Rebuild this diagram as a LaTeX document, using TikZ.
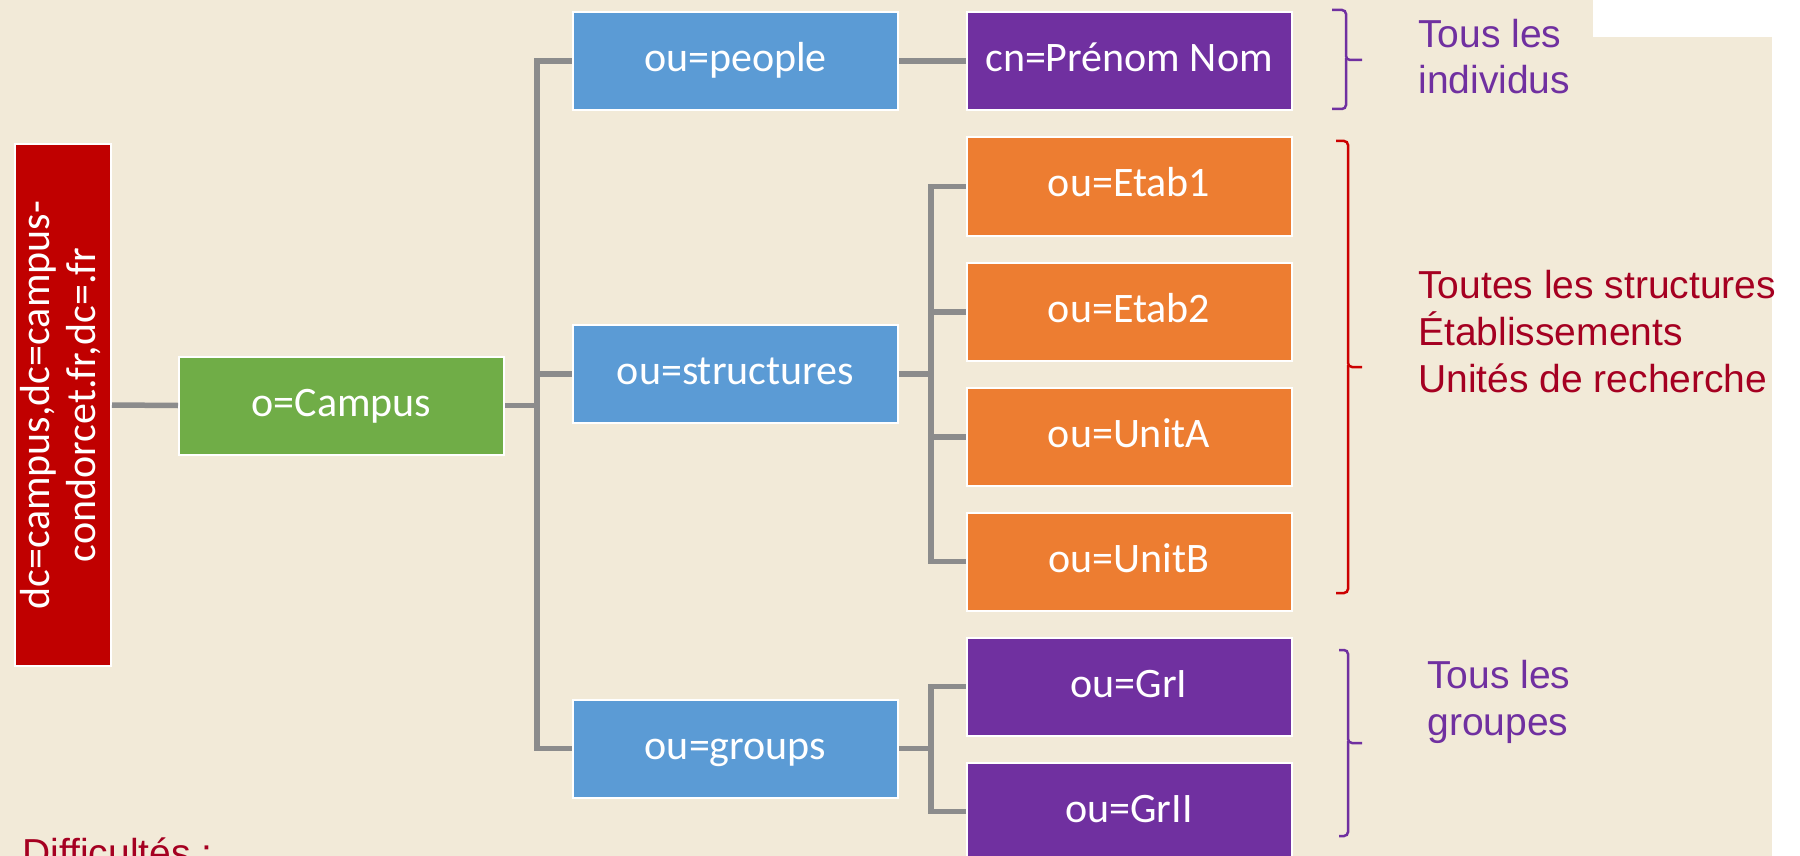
\documentclass[tikz,border=0pt]{standalone}
\usepackage{fontspec}
\usepackage{graphicx}
\newfontfamily\boxfont{Carlito}
\newfontfamily\labelfont{Liberation Sans}
\definecolor{bgbeige}{HTML}{F2EAD8}
\definecolor{redbox}{HTML}{C00000}
\definecolor{greenbox}{HTML}{70AD47}
\definecolor{bluebox}{HTML}{5B9BD5}
\definecolor{orangebox}{HTML}{ED7D31}
\definecolor{purplebox}{HTML}{7030A0}
\definecolor{linkgray}{HTML}{8C8C8C}
\definecolor{darkredtext}{HTML}{A50021}
\definecolor{bracketred}{HTML}{CC0000}
\begin{document}
\begin{tikzpicture}[x=0.5pt,y=-0.5pt,
  box/.style={draw=white, line width=1pt, minimum width=162.5pt, minimum height=49pt,
    inner sep=0pt, text=white, font=\boxfont\fontsize{21}{25}\selectfont,
    text height=10.5pt, text depth=0pt},
  link/.style={draw=linkgray, line width=2.75pt},
  brk/.style={line width=1.25pt, rounded corners=2pt},
  lbl/.style={font=\labelfont\fontsize{19.5}{23.4}\selectfont, align=left, inner sep=0pt}]
\useasboundingbox (0,0) rectangle (1800,856);
\clip (0,0) rectangle (1800,856);
% page background
\fill[white] (0,0) rectangle (1800,856);
\fill[bgbeige] (0,37) rectangle (1772,856);
\fill[bgbeige] (0,0) rectangle (1593,37);

% root of the tree
\node[draw=white, line width=1pt, fill=redbox, text=white, inner sep=0pt,
      minimum width=48pt, minimum height=261pt] (dc) at (63,405)
  {\rotatebox{90}{\boxfont\fontsize{21}{23}\selectfont
   \begin{tabular}{@{}c@{}}dc=campus,dc=campus-\\condorcet.fr,dc=.fr\end{tabular}}};
\node[box, fill=greenbox] (campus) at (341.5,405.5) {o=Campus};

% organisational units
\node[box, fill=bluebox] (people) at (735.5,61) {ou=people};
\node[box, fill=bluebox] (structures) at (735.5,374) {ou=structures};
\node[box, fill=bluebox] (groups) at (735.5,748.5) {ou=groups};

% leaves
\node[box, fill=purplebox] (cn) at (1129,61) {cn=Prénom Nom};
\node[box, fill=orangebox] (etab1) at (1129,186.5) {ou=Etab1};
\node[box, fill=orangebox] (etab2) at (1129,312) {ou=Etab2};
\node[box, fill=orangebox] (unita) at (1129,437) {ou=UnitA};
\node[box, fill=orangebox] (unitb) at (1129,561.5) {ou=UnitB};
\node[box, fill=purplebox] (gr1) at (1129,686.5) {ou=GrI};
\node[box, fill=purplebox] (gr2) at (1129,811.5) {ou=GrII};

% connectors
\coordinate (j1) at ([xshift=16pt]campus.east);
\coordinate (j2) at ([xshift=16pt]structures.east);
\coordinate (j3) at ([xshift=16pt]groups.east);
\draw[link] (dc.east) -- (campus.west);
\draw[link] (campus.east) -- (j1) |- (people.west);
\draw[link] (j1) |- (structures.west);
\draw[link] (j1) |- (groups.west);
\draw[link] (people.east) -- (cn.west);
\draw[link] (structures.east) -- (j2) |- (etab1.west);
\draw[link] (j2) |- (etab2.west);
\draw[link] (j2) |- (unita.west);
\draw[link] (j2) |- (unitb.west);
\draw[link] (groups.east) -- (j3) |- (gr1.west);
\draw[link] (j3) |- (gr2.west);

% braces on the right
\draw[brk, purplebox] (1332,10) -| (1346,60) -- (1362,60);
\draw[brk, purplebox] (1346,58) |- (1332,109);
\draw[brk, bracketred] (1336,141) -| (1348,367) -- (1362,367);
\draw[brk, bracketred] (1348,365) |- (1336,593);
\draw[brk, purplebox] (1339,650) -| (1348,743) -- (1362,743);
\draw[brk, purplebox] (1348,741) |- (1339,836);

% labels (anchored at the baseline of their last line)
\node[lbl, text=purplebox, anchor=base west] (lindiv) at (1418,94) {Tous les\\individus};
\node[lbl, text=darkredtext, anchor=base west] (lstruct) at (1418,392)
  {Toutes les structures\\Établissements\\Unités de recherche};
\node[lbl, text=purplebox, anchor=base west] (lgroup) at (1427,735) {Tous les\\groupes};
\node[lbl, text=darkredtext, anchor=base west] (ldiff) at (22,866) {Difficultés :};
\end{tikzpicture}
\end{document}
